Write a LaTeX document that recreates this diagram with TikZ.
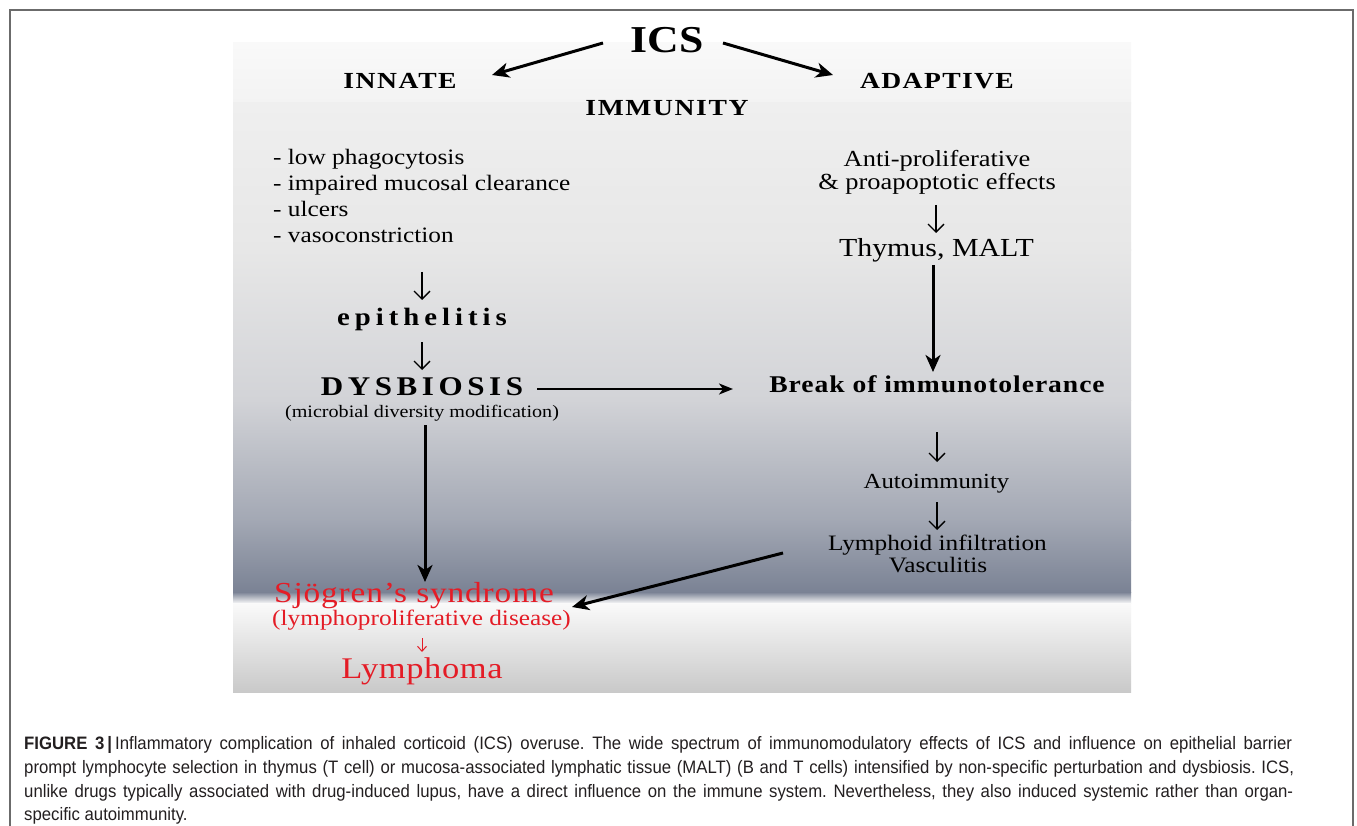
\documentclass[tikz,border=0pt]{standalone}
\usepackage{fontspec}
\setmainfont{Liberation Serif}
\newfontfamily\dfont[FakeStretch=1.15]{Liberation Serif}
\newfontfamily\wfont[FakeStretch=1.2]{Liberation Serif}
\newfontfamily\capfont[FakeStretch=0.93]{Liberation Sans}
\usetikzlibrary{arrows.meta,calc}
\newcommand\fsz[1]{\fontsize{#1}{#1}\selectfont}
\definecolor{framec}{HTML}{6B6B6B}
\definecolor{sjred}{RGB}{228,28,38}
\definecolor{captext}{HTML}{231F20}
\definecolor{g1}{HTML}{F9F9F9}
\definecolor{g2}{HTML}{F3F3F3}
\definecolor{g3}{HTML}{EFEFEF}
\definecolor{g4}{HTML}{E7E7E7}
\definecolor{g5}{HTML}{D2D3D7}
\definecolor{g6}{HTML}{A3A8B4}
\definecolor{g7}{HTML}{7A8294}
\definecolor{g8}{HTML}{FAFAFA}
\definecolor{g9}{HTML}{C9C9C9}
\tikzset{
  lab/.style={inner sep=0pt, anchor=base},
  bigarrow/.style={line width=3pt, -{Stealth[length=17pt,width=15pt,inset=5pt]}},
  midarrow/.style={line width=2pt, -{Stealth[length=14pt,width=11pt,inset=4pt]}},
  glypharrow/.style={line width=1.3pt, -{Straight Barb[length=8pt,width=16pt]}},
  redarrow/.style={line width=1pt, draw=sjred, -{Straight Barb[length=5pt,width=9pt]}}
}
\begin{document}
\frenchspacing
\begin{tikzpicture}[x=1pt,y=-1pt]
\useasboundingbox (0,0) rectangle (1357,826);
\fill[white] (0,0) rectangle (1357,826);
% background image gradient
\shade[top color=g1, bottom color=g2] (233,43) rectangle (1131,103.5);
\shade[top color=g3, bottom color=g4] (233,103) rectangle (1131,250.5);
\shade[top color=g4, bottom color=g5] (233,250) rectangle (1131,400.5);
\shade[top color=g5, bottom color=g6] (233,400) rectangle (1131,520.5);
\shade[top color=g6, bottom color=g7] (233,520) rectangle (1131,592.5);
\shade[top color=g7, bottom color=g8] (233,592) rectangle (1131,603.5);
\shade[top color=g8, bottom color=g9] (233,603) rectangle (1131,692);
% frame
\draw[framec, line width=1.5pt] (10,826) -- (10,10) -- (1353,10) -- (1353,826);

% top
\node[lab, font=\dfont\bfseries\fsz{38}] (ics) at (667,53) {ICS};
\node[lab, font=\wfont\bfseries\fsz{23}\addfontfeatures{LetterSpace=7}] (innate) at (400,89) {INNATE};
\node[lab, font=\wfont\bfseries\fsz{23}\addfontfeatures{LetterSpace=6}] (adaptive) at (937,89) {ADAPTIVE};
\node[lab, font=\wfont\bfseries\fsz{23}\addfontfeatures{LetterSpace=7}] (immunity) at (667,116) {IMMUNITY};

% left column
\node[lab, anchor=base west, font=\dfont\fsz{22}] (l1) at (273,165) {- low phagocytosis};
\node[lab, anchor=base west, font=\dfont\fsz{22}] (l2) at (273,191) {- impaired mucosal clearance};
\node[lab, anchor=base west, font=\dfont\fsz{22}] (l3) at (273,217) {- ulcers};
\node[lab, anchor=base west, font=\dfont\fsz{22}] (l4) at (273,243) {- vasoconstriction};
\node[lab, font=\dfont\bfseries\fsz{25}\addfontfeatures{LetterSpace=20}] (epi) at (422,325) {epithelitis};
\node[lab, font=\dfont\bfseries\fsz{27}\addfontfeatures{LetterSpace=17}] (dys) at (422,395) {DYSBIOSIS};
\node[lab, font=\dfont\fsz{17.5}] (mic) at (422,417) {(microbial diversity modification)};

% right column
\node[lab, font=\dfont\fsz{23}] (anti) at (937,167) {Anti-proliferative};
\node[lab, font=\dfont\fsz{23}] (pro) at (937,190) {\& proapoptotic effects};
\node[lab, font=\dfont\fsz{26}] (thy) at (936.5,257) {Thymus, MALT};
\node[lab, font=\dfont\bfseries\fsz{24}\addfontfeatures{LetterSpace=4}] (brk) at (937,392) {Break of immunotolerance};
\node[lab, font=\dfont\fsz{21.5}] (auto) at (936.5,488) {Autoimmunity};
\node[lab, font=\dfont\fsz{22}] (lym) at (937.5,550) {Lymphoid infiltration};
\node[lab, font=\dfont\fsz{22}] (vas) at (938,572) {Vasculitis};

% bottom red
\node[lab, text=sjred, font=\dfont\fsz{29}\addfontfeatures{LetterSpace=3}] (sjo) at (414,602) {Sjögren’s syndrome};
\node[lab, text=sjred, font=\dfont\fsz{22}] (lp) at (421.5,625) {(lymphoproliferative disease)};
\node[lab, text=sjred, font=\dfont\fsz{30}\addfontfeatures{LetterSpace=2}] (lyma) at (422,678) {Lymphoma};

% connectors
\draw[bigarrow] ($(ics.base)+(-64,-10)$) -- ($(innate.base)+(92,-14)$);
\draw[bigarrow] ($(ics.base)+(56,-10)$) -- ($(adaptive.base)+(-104,-14)$);
\draw[glypharrow] ($(l4.base west)+(149,29)$) -- ($(epi.base)+(0,-25)$);
\draw[glypharrow] ($(epi.base)+(0,17)$) -- ($(dys.base)+(0,-25)$);
\draw[bigarrow] ($(mic.base)+(3,8)$) -- ($(sjo.base)+(11,-20)$);
\draw[midarrow] ($(dys.base)+(115,-6)$) -- ($(brk.base)+(-204,-3)$);
\draw[glypharrow] ($(pro.base)+(-1,15)$) -- ($(thy.base)+(-0.5,-24)$);
\draw[bigarrow] ($(thy.base)+(-3.5,8)$) -- ($(brk.base)+(-4,-20)$);
\draw[glypharrow] ($(brk.base)+(0,40)$) -- ($(auto.base)+(0.5,-26)$);
\draw[glypharrow] ($(auto.base)+(0.5,14)$) -- ($(lym.base)+(-0.5,-20)$);
\draw[bigarrow] ($(lym.base)+(-154.5,3)$) -- ($(sjo.base)+(158,5)$);
\draw[redarrow] ($(lp.base)+(0.5,13)$) -- ($(lyma.base)+(0,-26)$);

% caption
\node[lab, anchor=base west, font=\capfont\fsz{18}, text=captext] (cap1) at (24,749) {\makebox[1268pt][s]{\textbf{FIGURE 3}\,\textbf{|}\,Inflammatory complication of inhaled corticoid (ICS) overuse. The wide spectrum of immunomodulatory effects of ICS and influence on epithelial barrier}};
\node[lab, anchor=base west, font=\capfont\fsz{18}, text=captext] (cap2) at (24,773) {\makebox[1270pt][s]{prompt lymphocyte selection in thymus (T cell) or mucosa-associated lymphatic tissue (MALT) (B and T cells) intensified by non-specific perturbation and dysbiosis. ICS,}};
\node[lab, anchor=base west, font=\capfont\fsz{18}, text=captext] (cap3) at (24,797) {\makebox[1269pt][s]{unlike drugs typically associated with drug-induced lupus, have a direct influence on the immune system. Nevertheless, they also induced systemic rather than organ-}};
\node[lab, anchor=base west, font=\capfont\fsz{18}, text=captext] (cap4) at (24,820) {specific autoimmunity.};
\end{tikzpicture}
\end{document}
